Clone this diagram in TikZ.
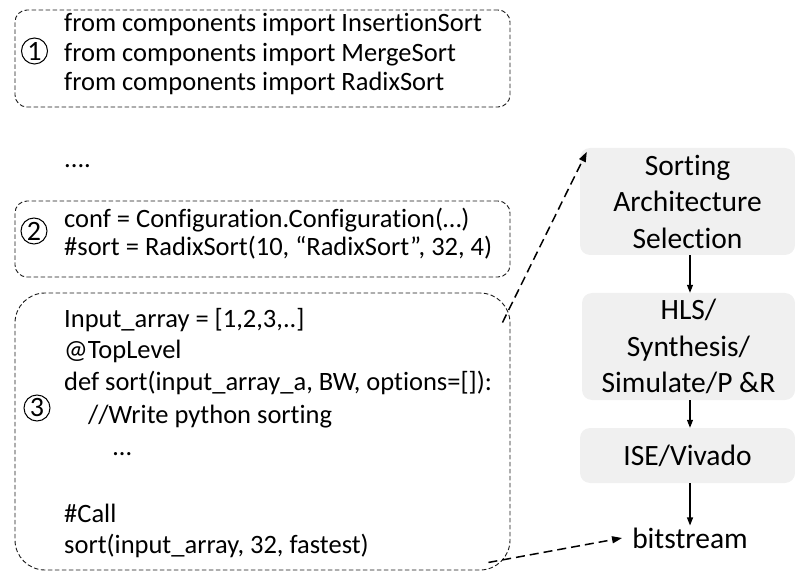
\documentclass[tikz,border=0pt]{standalone}
\usepackage{fontspec}
\setmainfont{Carlito}[Ligatures=NoCommon]
\usetikzlibrary{arrows.meta}
\begin{document}
\begin{tikzpicture}[x=1pt,y=-1pt,
  codebox/.style={draw=black!90, dash pattern=on 4.5pt off 2.5pt, line width=0.9pt},
  codetxt/.style={anchor=base west, inner sep=0pt, font=\fontsize{26.5}{30}\selectfont},
  numc/.style={draw, circle, line width=1pt, inner sep=0pt, minimum size=26pt, font=\fontsize{28}{28}\selectfont},
  flowbox/.style={fill=black!6, rounded corners=10pt, align=center, inner sep=0pt, font=\fontsize{29.5}{36.5}\selectfont},
  flowarrow/.style={-{Triangle[length=8pt,width=6pt]}, line width=1.1pt},
  dasharrow/.style={-{Triangle[length=10pt,width=7pt]}, line width=1.5pt, dash pattern=on 9pt off 5pt}]

\useasboundingbox (0,0) rectangle (795,577);

% code boxes
\node[codebox, rounded corners=12pt, minimum width=495pt, minimum height=97pt] (box1) at (262.5,58.5) {};
\node[codebox, rounded corners=12pt, minimum width=495pt, minimum height=76pt] (box2) at (262.5,239) {};
\node[codebox, rounded corners=30pt, minimum width=495pt, minimum height=277pt] (box3) at (262.5,431.5) {};

% circled numbers
\node[numc] (n1) at (34.5,51) {1};
\node[numc] (n2) at (34,231) {2};
\node[numc] (n3) at (37,408) {3};

% code text
\node[codetxt] (a1) at (64,31.5) {from components import InsertionSort};
\node[codetxt] (a2) at (64,61.5) {from components import MergeSort};
\node[codetxt] (a3) at (64,91) {from components import RadixSort};

\node[codetxt] (dots) at (64,168) {....};

\node[codetxt] (b1) at (64,228) {conf = Configuration.Configuration(…)};
\node[codetxt] (b2) at (64,256) {\#sort = RadixSort(10, “RadixSort”, 32, 4)};

\node[codetxt] (c1) at (64,327) {Input\_array = [1,2,3,..]};
\node[codetxt] (c2) at (64,358) {@TopLevel};
\node[codetxt] (c3) at (64,390) {def sort(input\_array\_a, BW, options=[]):};
\node[codetxt] (c4) at (88,423) {//Write python sorting};
\node[codetxt] (c5) at (113,455) {…};
\node[codetxt] (c6) at (64,522) {\#Call};
\node[codetxt] (c7) at (64,553) {sort(input\_array, 32, fastest)};

% flow
\node[flowbox, minimum width=215pt, minimum height=107pt] (selA) at (687.5,201.5) {Sorting\\Architecture\\Selection};
\node[flowbox, minimum width=213pt, minimum height=107pt] (hls) at (688.5,346.5) {HLS/\\Synthesis/\\Simulate/P \&R};
\node[flowbox, minimum width=215pt, minimum height=55pt] (ise) at (687.5,455.5) {ISE/Vivado};
\node[inner sep=2pt, font=\fontsize{29.5}{36}\selectfont] (bit) at (690,538) {bitstream};

\draw[flowarrow] (selA.south -| bit.center) -- (hls.north -| bit.center);
\draw[flowarrow] (hls.south -| bit.center) -- (ise.north -| bit.center);
\draw[flowarrow] (ise.south -| bit.center) -- (bit.north);

\draw[dasharrow] ([xshift=-8pt,yshift=-30pt]box3.north east) -- ([xshift=7pt,yshift=-4pt]selA.north west);
\draw[dasharrow] ([xshift=-22pt,yshift=8pt]box3.south east) -- ([xshift=-8pt]bit.west);
\end{tikzpicture}
\end{document}
